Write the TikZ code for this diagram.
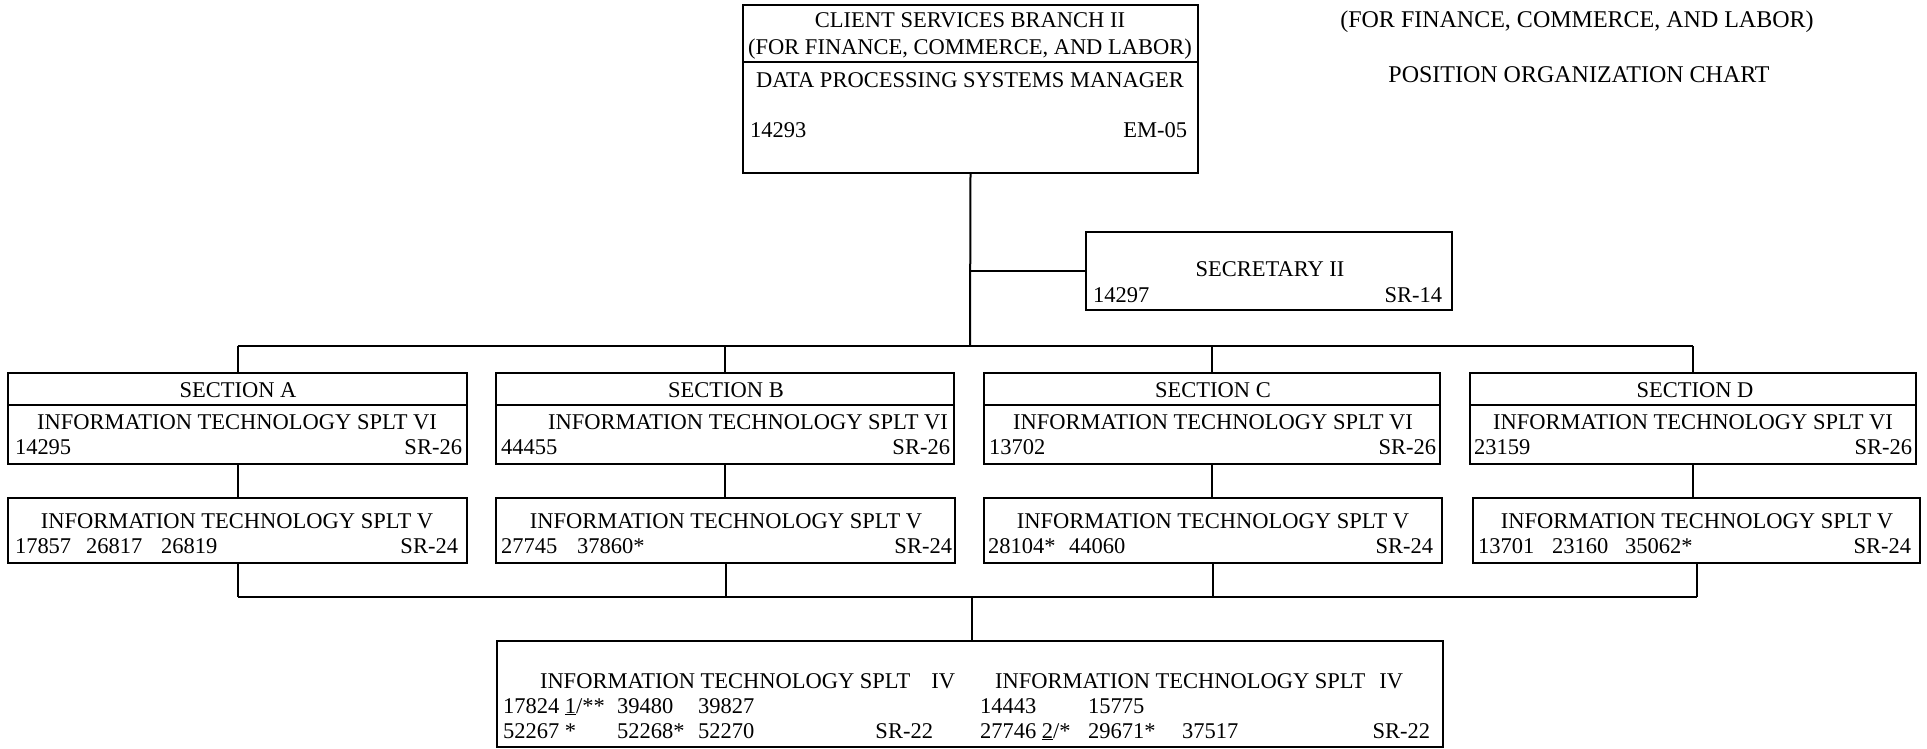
\documentclass[tikz,border=0pt]{standalone}
\usepackage{fontspec}
\setmainfont{Liberation Serif}
\begin{document}
\begin{tikzpicture}[x=1pt,y=-1pt,
  box/.style={draw,line width=2pt,inner sep=0pt,outer sep=0pt},
  conn/.style={line width=2pt},
  txt/.style={inner sep=0pt,outer sep=0pt,font=\fontsize{22.5}{27}\selectfont},
  ttl/.style={inner sep=0pt,outer sep=0pt,font=\fontsize{24}{28}\selectfont}]
\useasboundingbox[fill=white] (0,0) rectangle (1927,749);

% ---------- boxes ----------
\node[box,minimum width=455pt,minimum height=168pt] (top) at (970.5,89) {};
\draw[conn] (743,62) -- (1198,62);
\node[box,minimum width=366pt,minimum height=78pt] (sec) at (1269,271) {};

\node[box,minimum width=459pt,minimum height=91pt] (sA) at (237.5,418.5) {};
\node[box,minimum width=458pt,minimum height=91pt] (sB) at (725,418.5) {};
\node[box,minimum width=456pt,minimum height=91pt] (sC) at (1212,418.5) {};
\node[box,minimum width=446pt,minimum height=91pt] (sD) at (1693,418.5) {};
\draw[conn] (8,405) -- (467,405);
\draw[conn] (496,405) -- (954,405);
\draw[conn] (984,405) -- (1440,405);
\draw[conn] (1470,405) -- (1916,405);

\node[box,minimum width=459pt,minimum height=65pt] (lA) at (237.5,530.5) {};
\node[box,minimum width=459pt,minimum height=65pt] (lB) at (725.5,530.5) {};
\node[box,minimum width=458pt,minimum height=65pt] (lC) at (1213,530.5) {};
\node[box,minimum width=447pt,minimum height=65pt] (lD) at (1696.5,530.5) {};

\node[box,minimum width=946pt,minimum height=106pt] (bot) at (970,694) {};

% ---------- connectors ----------
\coordinate (bt) at (970,346);
\coordinate (bb) at (972,597);
\draw[conn] (top.south) -- (bt);
\draw[conn] (top.south |- sec.west) -- (sec.west);
\draw[conn] (sA.north |- bt) -- (sD.north |- bt);
\draw[conn] (sA.north |- bt) -- (sA.north);
\draw[conn] (sB.north |- bt) -- (sB.north);
\draw[conn] (sC.north |- bt) -- (sC.north);
\draw[conn] (sD.north |- bt) -- (sD.north);
\draw[conn] (sA.south) -- (sA.south |- lA.north);
\draw[conn] (sB.south) -- (sB.south |- lB.north);
\draw[conn] (sC.south) -- (sC.south |- lC.north);
\draw[conn] (sD.south) -- (sD.south |- lD.north);
\draw[conn] (lA.south |- bb) -- (lD.south |- bb);
\draw[conn] (lA.south) -- (lA.south |- bb);
\draw[conn] (lB.south) -- (lB.south |- bb);
\draw[conn] (lC.south) -- (lC.south |- bb);
\draw[conn] (lD.south) -- (lD.south |- bb);
\draw[conn] (bb) -- (bb |- bot.north);

% ---------- title ----------
\node[ttl,anchor=base] (h1) at (1577,28) {(FOR FINANCE, COMMERCE, AND LABOR)};
\node[ttl,anchor=base] (h2) at (1579,83) {POSITION ORGANIZATION CHART};

% ---------- top box text ----------
\node[txt,anchor=base] (t1) at (970,28) {CLIENT SERVICES BRANCH II};
\node[txt,anchor=base] (t2) at (970,55) {(FOR FINANCE, COMMERCE, AND LABOR)};
\node[txt,anchor=base] (t3) at (970,88) {DATA PROCESSING SYSTEMS MANAGER};
\node[txt,anchor=base west] (t4) at (750,138) {14293};
\node[txt,anchor=base east] (t5) at (1187,138) {EM-05};

% ---------- secretary ----------
\node[txt,anchor=base] (s1) at (1270,276) {SECRETARY II};
\node[txt,anchor=base west] (s2) at (1093,302) {14297};
\node[txt,anchor=base east] (s3) at (1442,302) {SR-14};

% ---------- section A ----------
\node[txt,anchor=base] (a1) at (238,397) {SECTION A};
\node[txt,anchor=base] (a2) at (237,429) {INFORMATION TECHNOLOGY SPLT VI};
\node[txt,anchor=base west] (a3) at (15,454) {14295};
\node[txt,anchor=base east] (a4) at (462,454) {SR-26};
\node[txt,anchor=base] (a5) at (237,528) {INFORMATION TECHNOLOGY SPLT V};
\node[txt,anchor=base west] (a6) at (15,553) {17857};
\node[txt,anchor=base west] (a7) at (86,553) {26817};
\node[txt,anchor=base west] (a8) at (161,553) {26819};
\node[txt,anchor=base east] (a9) at (458,553) {SR-24};

% ---------- section B ----------
\node[txt,anchor=base] (b1) at (726,397) {SECTION B};
\node[txt,anchor=base east] (b2) at (948,429) {INFORMATION TECHNOLOGY SPLT VI};
\node[txt,anchor=base west] (b3) at (501,454) {44455};
\node[txt,anchor=base east] (b4) at (950,454) {SR-26};
\node[txt,anchor=base] (b5) at (726,528) {INFORMATION TECHNOLOGY SPLT V};
\node[txt,anchor=base west] (b6) at (501,553) {27745};
\node[txt,anchor=base west] (b7) at (577,553) {37860*};
\node[txt,anchor=base east] (b9) at (952,553) {SR-24};

% ---------- section C ----------
\node[txt,anchor=base] (c1) at (1213,397) {SECTION C};
\node[txt,anchor=base] (c2) at (1213,429) {INFORMATION TECHNOLOGY SPLT VI};
\node[txt,anchor=base west] (c3) at (989,454) {13702};
\node[txt,anchor=base east] (c4) at (1436,454) {SR-26};
\node[txt,anchor=base] (c5) at (1213,528) {INFORMATION TECHNOLOGY SPLT V};
\node[txt,anchor=base west] (c6) at (988,553) {28104*};
\node[txt,anchor=base west] (c7) at (1069,553) {44060};
\node[txt,anchor=base east] (c9) at (1433,553) {SR-24};

% ---------- section D ----------
\node[txt,anchor=base] (d1) at (1695,397) {SECTION D};
\node[txt,anchor=base] (d2) at (1693,429) {INFORMATION TECHNOLOGY SPLT VI};
\node[txt,anchor=base west] (d3) at (1474,454) {23159};
\node[txt,anchor=base east] (d4) at (1912,454) {SR-26};
\node[txt,anchor=base] (d5) at (1697,528) {INFORMATION TECHNOLOGY SPLT V};
\node[txt,anchor=base west] (d6) at (1478,553) {13701};
\node[txt,anchor=base west] (d7) at (1552,553) {23160};
\node[txt,anchor=base west] (d8) at (1625,553) {35062*};
\node[txt,anchor=base east] (d9) at (1911,553) {SR-24};

% ---------- bottom box ----------
\node[txt,anchor=base west] (e1) at (540,688) {INFORMATION TECHNOLOGY SPLT};
\node[txt,anchor=base east] (e2) at (955,688) {IV};
\node[txt,anchor=base west] (e3) at (503,713) {17824 \underline{1}/**};
\node[txt,anchor=base west] (e4) at (617,713) {39480};
\node[txt,anchor=base west] (e5) at (698,713) {39827};
\node[txt,anchor=base west] (e6) at (503,738) {52267 *};
\node[txt,anchor=base west] (e7) at (617,738) {52268*};
\node[txt,anchor=base west] (e8) at (698,738) {52270};
\node[txt,anchor=base east] (e9) at (933,738) {SR-22};

\node[txt,anchor=base west] (f1) at (995,688) {INFORMATION TECHNOLOGY SPLT};
\node[txt,anchor=base east] (f2) at (1403,688) {IV};
\node[txt,anchor=base west] (f3) at (980,713) {14443};
\node[txt,anchor=base west] (f4) at (1088,713) {15775};
\node[txt,anchor=base west] (f5) at (980,738) {27746 \underline{2}/*};
\node[txt,anchor=base west] (f6) at (1088,738) {29671*};
\node[txt,anchor=base west] (f7) at (1182,738) {37517};
\node[txt,anchor=base east] (f8) at (1430,738) {SR-22};
\end{tikzpicture}
\end{document}
